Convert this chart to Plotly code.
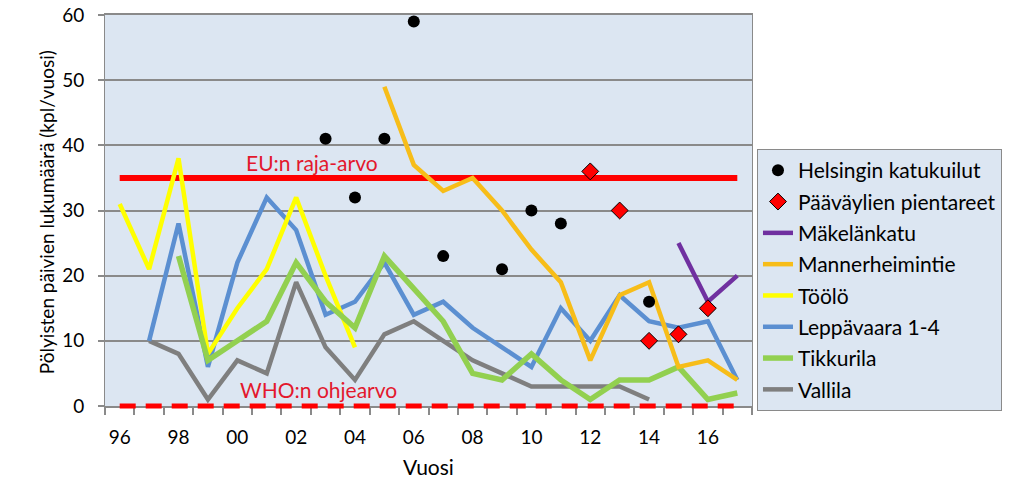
import plotly.graph_objects as go

years = list(range(1996, 2018))
tick_years = list(range(1996, 2017, 2))
tick_labels = ["96", "98", "00", "02", "04", "06", "08", "10", "12", "14", "16"]

# Helsingin katukuilut (points)
katu_years = [2003, 2004, 2005, 2006, 2007, 2009, 2010, 2011, 2014]
katu_vals = [41, 32, 41, 59, 23, 21, 30, 28, 16]

# Pääväylien pientareet (points)
piena_years = [2012, 2013, 2014, 2015, 2016]
piena_vals = [36, 30, 10, 11, 15]

makelankatu_years = [2015, 2016, 2017]
makelankatu_vals = [25, 16, 20]

mannerheimintie_years = list(range(2005, 2018))
mannerheimintie_vals = [49, 37, 33, 35, 30, 24, 19, 7, 17, 19, 6, 7, 4]

toolo_years = list(range(1996, 2005))
toolo_vals = [31, 21, 38, 8, 15, 21, 32, 20, 9]

leppavaara_years = list(range(1997, 2018))
leppavaara_vals = [10, 28, 6, 22, 32, 27, 14, 16, 22, 14, 16, 12, 9, 6, 15, 10, 17, 13, 12, 13, 4]

tikkurila_years = list(range(1998, 2018))
tikkurila_vals = [23, 7, 10, 13, 22, 16, 12, 23, 18, 13, 5, 4, 8, 4, 1, 4, 4, 6, 1, 2]

vallila_years = list(range(1997, 2015))
vallila_vals = [10, 8, 1, 7, 5, 19, 9, 4, 11, 13, 10, 7, 5, 3, 3, 3, 3, 1]

eu_limit = 35
who_guideline = 0
y_range = [0, 60]

FONT = "Lato"
RED_TXT = "#e3182d"
GRID = "#8a8a8a"
BG = "#dce6f2"

fig = go.Figure()

# EU limit line
fig.add_trace(go.Scatter(x=[years[0], years[-1]], y=[eu_limit, eu_limit], mode="lines",
                         line=dict(color="#ff0000", width=6), showlegend=False, hoverinfo="skip"))
# WHO guideline (dashed; paper-referenced in y so it is not cut in half at the axis)
who_paper = (who_guideline - y_range[0]) / (y_range[1] - y_range[0])
fig.add_shape(type="line", xref="x", yref="paper", x0=years[0], x1=years[-1],
              y0=who_paper, y1=who_paper,
              line=dict(color="#ff0000", width=5, dash="16px,10px"), layer="above")

series = [
    ("Vallila", vallila_years, vallila_vals, "#7f7f7f", 8, 4.5),
    ("Leppävaara 1-4", leppavaara_years, leppavaara_vals, "#5b8fd1", 6, 4.5),
    ("Töölö", toolo_years, toolo_vals, "#ffff00", 5, 4.5),
    ("Tikkurila", tikkurila_years, tikkurila_vals, "#92d050", 7, 5.5),
    ("Mannerheimintie", mannerheimintie_years, mannerheimintie_vals, "#f7bd19", 4, 4.5),
    ("Mäkelänkatu", makelankatu_years, makelankatu_vals, "#7030a0", 3, 4.5),
]
for name, xs, ys, col, rank, w in series:
    fig.add_trace(go.Scatter(x=xs, y=ys, mode="lines", name=name,
                             line=dict(color=col, width=w),
                             legendrank=rank, legendgroup=name))

fig.add_trace(go.Scatter(x=piena_years, y=piena_vals, mode="markers", name="Pääväylien pientareet",
                         marker=dict(symbol="diamond", size=13, color="#ff0000",
                                     line=dict(color="#000000", width=1)),
                         legendrank=2, legendgroup="p"))
fig.add_trace(go.Scatter(x=katu_years, y=katu_vals, mode="markers", name="Helsingin katukuilut",
                         marker=dict(symbol="circle", size=12, color="#000000"),
                         legendrank=1, legendgroup="k"))

fig.add_annotation(x=2002.55, y=37.4, xref="x", yref="y", text="EU:n raja-arvo",
                   showarrow=False, font=dict(family=FONT, size=21, color=RED_TXT))
fig.add_annotation(x=2002.75, y=2.5, xref="x", yref="y", text="WHO:n ohjearvo",
                   showarrow=False, font=dict(family=FONT, size=21, color=RED_TXT))

fig.add_annotation(x=-0.111, y=0.495, xref="paper", yref="paper", text="Pölyisten päivien lukumäärä (kpl/vuosi)",
                   textangle=-90, showarrow=False, font=dict(family=FONT, size=19, color="#000000"))
fig.add_annotation(x=0.5, y=-0.156, xref="paper", yref="paper", text="Vuosi", yanchor="middle",
                   showarrow=False, font=dict(family=FONT, size=21, color="#000000"))
fig.add_annotation(x=0.243, y=-0.174, xref="paper", yref="paper", text="17.1.2018", yanchor="top",
                   showarrow=False, font=dict(family=FONT, size=21, color="#000000"))

fig.update_layout(
    width=1024, height=478,
    margin=dict(l=105, r=272, t=15, b=72, autoexpand=False),
    paper_bgcolor="#ffffff", plot_bgcolor=BG,
    font=dict(family=FONT, size=19, color="#000000"),
    showlegend=True,
    legend=dict(x=1.0077, y=0.657, xanchor="left", yanchor="top", bgcolor=BG,
                bordercolor=GRID, borderwidth=1, tracegroupgap=1,
                font=dict(family=FONT, size=21, color="#000000"), traceorder="grouped"),
)
fig.update_xaxes(range=[1995.5, 2017.5], tickmode="array", tickvals=tick_years, ticktext=tick_labels,
                 ticks="", showgrid=False, zeroline=False, showline=True, linecolor=GRID, linewidth=1.5,
                 mirror=True, ticklabelstandoff=13,
                 minor=dict(ticks="outside", tick0=1995.5, dtick=1, ticklen=7, tickcolor=GRID,
                            tickwidth=1.5, showgrid=False),
                 tickfont=dict(family=FONT, size=19))
fig.update_yaxes(range=y_range, tickmode="linear", tick0=0, dtick=10, showgrid=True, gridcolor=GRID,
                 gridwidth=1.5, zeroline=False, ticks="outside", ticklen=6, tickcolor=GRID, tickwidth=1.5,
                 showline=True, linecolor=GRID, linewidth=1, mirror=True, ticklabelstandoff=10,
                 tickfont=dict(family=FONT, size=19))

fig.write_html("out.html", config={"displayModeBar": False},
               post_script="document.body.style.margin='0';document.body.style.overflow='hidden';")
